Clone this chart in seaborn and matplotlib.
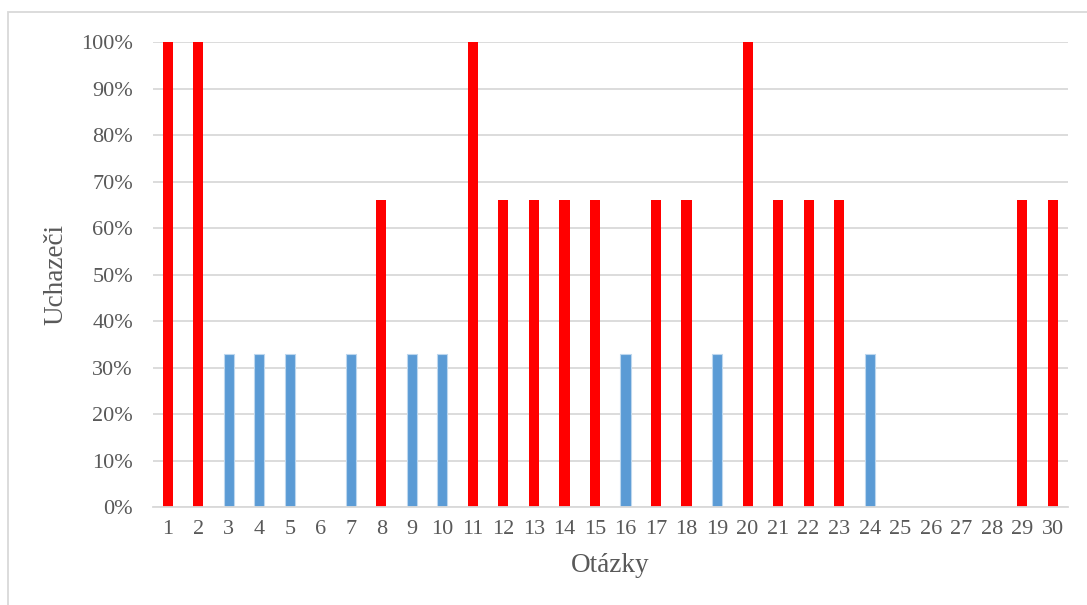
import matplotlib
matplotlib.use("Agg")
import matplotlib.pyplot as plt
import seaborn as sns
import pandas as pd
from matplotlib.patches import Rectangle
from matplotlib.ticker import FuncFormatter

# Share of applicants per question (%)
questions = [str(i) for i in range(1, 31)]
values = [100, 100, 33, 33, 33, 0, 33, 66, 33, 33,
          100, 66, 66, 66, 66, 33, 66, 66, 33, 100,
          66, 66, 66, 33, 0, 0, 0, 0, 66, 66]
groups = ["high" if v >= 50 else "low" for v in values]
palette = {"high": "#FF0000", "low": "#5B9BD5"}
y_ticks = list(range(0, 101, 10))

sns.set_theme(style="white")
plt.rcParams["font.family"] = ["Liberation Serif", "DejaVu Serif"]
text_color = "#595959"
grid_color = "#D9D9D9"

fig = plt.figure(figsize=(10.87, 6.05), dpi=100)
ax = fig.add_axes([0.1403, 0.1615, 0.9825 - 0.1403, 0.9306 - 0.1615])

df = pd.DataFrame({"q": questions, "v": values, "g": groups})
sns.barplot(data=df, x="q", y="v", hue="g", palette=palette, dodge=False,
            width=0.33, legend=False, ax=ax, saturation=1, zorder=3)

# thin light outline on the blue bars
for p in ax.patches:
    fc = p.get_facecolor()
    if fc[2] > 0.5:
        p.set_edgecolor("#BDD7EE")
        p.set_linewidth(0.8)
    else:
        p.set_linewidth(0)

ax.set_xlim(-0.5, 29.5)
ax.set_ylim(0, 100)
ax.set_yticks(y_ticks)
ax.yaxis.set_major_formatter(FuncFormatter(lambda v, _: f"{int(v)}%"))
ax.grid(axis="y", color=grid_color, linewidth=1.3, zorder=0)
ax.grid(axis="x", visible=False)
for s in ["top", "right", "left"]:
    ax.spines[s].set_visible(False)
ax.spines["bottom"].set_color(grid_color)
ax.spines["bottom"].set_linewidth(1.3)
ax.spines["bottom"].set_zorder(4)

ax.tick_params(axis="y", length=0, pad=14, labelsize=16, labelcolor=text_color)
ax.tick_params(axis="x", length=0, pad=9, labelsize=16, labelcolor=text_color)
ax.set_xlabel("Otázky", fontsize=19.5, color=text_color)
ax.set_ylabel("Uchazeči", fontsize=19.5, color=text_color)
ax.xaxis.set_label_coords(0.5, -0.098)
ax.yaxis.set_label_coords(-0.092, 0.5)

# outer chart frame
fig.patches.append(Rectangle((8 / 1087, -0.1), 1.2, 1 - 12 / 605 + 0.1,
                             transform=fig.transFigure, fill=False,
                             edgecolor="#D9D9D9", linewidth=1.3))

fig.savefig("out.png", dpi=100)
